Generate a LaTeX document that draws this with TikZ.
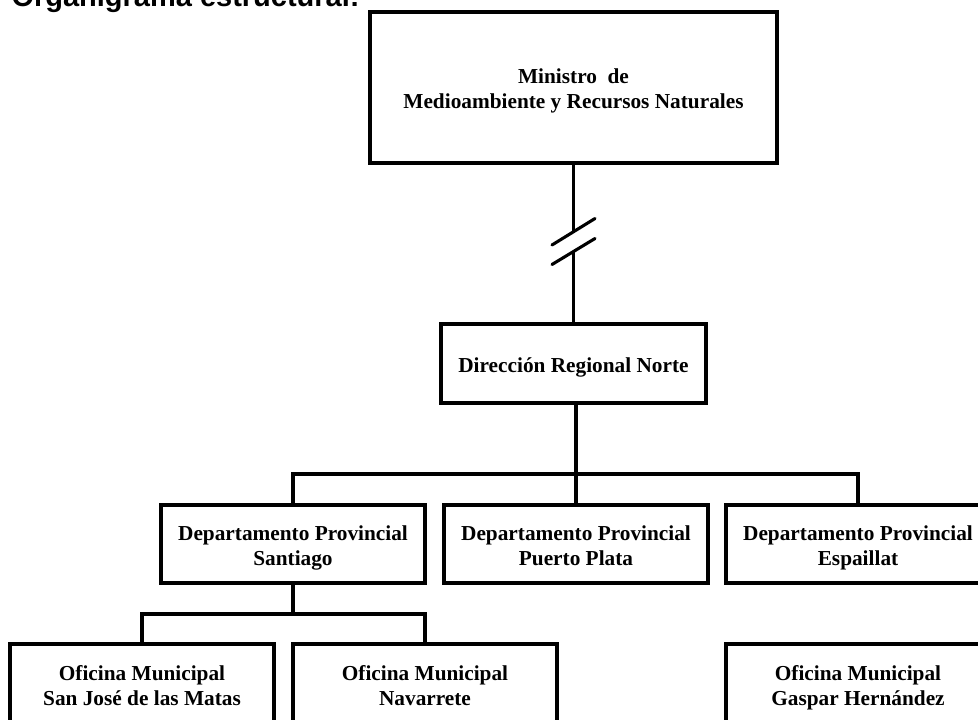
\documentclass[tikz,border=0pt]{standalone}
\usepackage{fontspec}
\setmainfont{Liberation Serif}
\newfontfamily\titlefont{Liberation Sans}
\newcommand\topstrut{\rule{0pt}{22pt}}
\newcommand\botstrut{\rule[-5pt]{0pt}{5pt}}
\begin{document}
\begin{tikzpicture}[x=1pt,y=-1pt,
  box/.style={draw=black, line width=3.1pt, align=center, inner sep=0pt,
    font=\bfseries\fontsize{21.3}{25}\selectfont},
  conn/.style={draw=black, line width=3.1pt}]
\useasboundingbox (0,0) rectangle (978,720);
\clip (0,0) rectangle (978,720);
\fill[white] (0,0) rectangle (978,720);

\node[anchor=base west, font=\titlefont\bfseries\fontsize{29}{30}\selectfont] (title) at (8,6) {Organigrama estructural:};

\node[box, minimum width=407pt, minimum height=151pt] (min) at (573.5,87.5) {\topstrut Ministro\ \ de\\Medioambiente y Recursos Naturales\botstrut};
\node[box, minimum width=265pt, minimum height=79pt] (dir) at (573.5,363.5) {\topstrut Dirección Regional Norte\botstrut};

\node[box, minimum width=264pt, minimum height=78pt] (sant) at (293,544) {\topstrut Departamento Provincial\\Santiago\botstrut};
\node[box, minimum width=264pt, minimum height=78pt] (pp) at (576,544) {\topstrut Departamento Provincial\\Puerto Plata\botstrut};
\node[box, minimum width=264pt, minimum height=78pt] (esp) at (858,544) {\topstrut Departamento Provincial\\Espaillat\botstrut};

\node[box, minimum width=264pt, minimum height=80pt] (sj) at (142,684) {\topstrut Oficina Municipal\\San José de las Matas\botstrut};
\node[box, minimum width=264pt, minimum height=80pt] (nav) at (425,684) {\topstrut Oficina Municipal\\Navarrete\botstrut};
\node[box, minimum width=264pt, minimum height=80pt] (gh) at (858,684) {\topstrut Oficina Municipal\\Gaspar Hernández\botstrut};

% break in the line from the minister to the regional office
\coordinate (b1) at (573.5,232);
\coordinate (b2) at (573.5,252);
\draw[conn] (min.south) -- (b1);
\draw[conn] (b2) -- (dir.north);
\draw[conn, line cap=round] (552,245) -- (595,218.5);
\draw[conn, line cap=round] (552,264.5) -- (595,238.5);

% regional office to departments
\coordinate (bar) at (576,474);
\draw[conn] (dir.south -| bar) -- (bar);
\draw[conn] (sant.north) -- (sant.north |- bar) -- (esp.north |- bar) -- (esp.north);
\draw[conn] (bar) -- (pp.north);

% Santiago to its offices
\coordinate (bar2) at (293,614);
\draw[conn] (sant.south) -- (bar2);
\draw[conn] (sj.north) -- (sj.north |- bar2) -- (nav.north |- bar2) -- (nav.north);
\end{tikzpicture}
\end{document}
